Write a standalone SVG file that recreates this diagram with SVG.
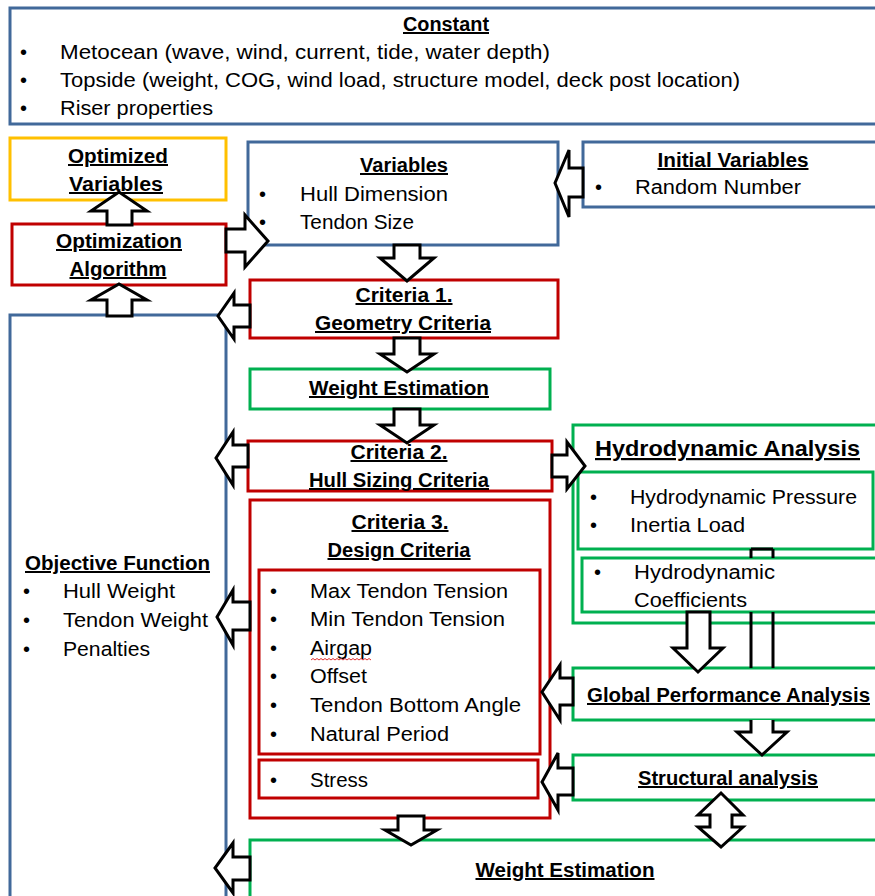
<svg xmlns="http://www.w3.org/2000/svg" width="875" height="896" viewBox="0 0 875 896">
<style>
.box{fill:none;stroke-width:3}
.blue{stroke:#41699A}
.red{stroke:#C00000}
.green{stroke:#00B050}
.yellow{stroke:#FFC000}
.wf{fill:#fff}
.arrow{fill:#fff;stroke:#000;stroke-width:3;stroke-linejoin:miter}
.t{font-family:"Liberation Sans",Arial,sans-serif;font-size:20px;fill:#000}
.bu{font-weight:bold;text-decoration:underline;font-size:20px}
.m{text-anchor:middle}
</style>
<rect width="875" height="896" fill="#fff"/>

<g id="constant">
<rect class="box blue" x="10" y="8" width="880" height="116"/>
<text class="t bu m" x="446" y="31" textLength="86" lengthAdjust="spacingAndGlyphs">Constant</text>
<text class="t" x="20" y="59">•</text>
<text class="t" x="60" y="59" textLength="490" lengthAdjust="spacingAndGlyphs">Metocean (wave, wind, current, tide, water depth)</text>
<text class="t" x="20" y="87">•</text>
<text class="t" x="60" y="87" textLength="680" lengthAdjust="spacingAndGlyphs">Topside (weight, COG, wind load, structure model, deck post location)</text>
<text class="t" x="20" y="115">•</text>
<text class="t" x="60" y="115" textLength="153" lengthAdjust="spacingAndGlyphs">Riser properties</text>
</g>

<g id="optimized-variables">
<rect class="box yellow" x="10" y="138" width="216" height="62"/>
<text class="t bu m" x="118" y="163" textLength="100" lengthAdjust="spacingAndGlyphs">Optimized</text>
<text class="t bu m" x="116" y="191" textLength="94" lengthAdjust="spacingAndGlyphs">Variables</text>
</g>

<g id="optimization-algorithm">
<rect class="box red" x="12" y="224" width="214" height="61"/>
<text class="t bu m" x="119" y="248" textLength="126" lengthAdjust="spacingAndGlyphs">Optimization</text>
<text class="t bu m" x="118" y="276" textLength="97" lengthAdjust="spacingAndGlyphs">Algorithm</text>
</g>

<g id="variables">
<rect class="box blue" x="248" y="142" width="310" height="103"/>
<text class="t bu m" x="404" y="172" textLength="88" lengthAdjust="spacingAndGlyphs">Variables</text>
<text class="t" x="259" y="201">•</text>
<text class="t" x="300" y="201" textLength="148" lengthAdjust="spacingAndGlyphs">Hull Dimension</text>
<text class="t" x="259" y="229">•</text>
<text class="t" x="300" y="229" textLength="114" lengthAdjust="spacingAndGlyphs">Tendon Size</text>
</g>

<g id="initial-variables">
<rect class="box blue" x="583" y="142" width="300" height="65"/>
<text class="t bu m" x="733" y="167" textLength="151" lengthAdjust="spacingAndGlyphs">Initial Variables</text>
<text class="t" x="595" y="194">•</text>
<text class="t" x="635" y="194" textLength="166" lengthAdjust="spacingAndGlyphs">Random Number</text>
</g>

<g id="objective-function">
<rect class="box blue" x="10" y="315" width="216" height="600"/>
<text class="t bu" x="25" y="570" textLength="185" lengthAdjust="spacingAndGlyphs">Objective Function</text>
<text class="t" x="23" y="598">•</text>
<text class="t" x="63" y="598" textLength="112" lengthAdjust="spacingAndGlyphs">Hull Weight</text>
<text class="t" x="23" y="627">•</text>
<text class="t" x="63" y="627" textLength="145" lengthAdjust="spacingAndGlyphs">Tendon Weight</text>
<text class="t" x="23" y="656">•</text>
<text class="t" x="63" y="656" textLength="87" lengthAdjust="spacingAndGlyphs">Penalties</text>
</g>

<g id="criteria-1">
<rect class="box red" x="250" y="280" width="308" height="58"/>
<text class="t bu m" x="404" y="302" textLength="97" lengthAdjust="spacingAndGlyphs">Criteria 1.</text>
<text class="t bu m" x="403" y="330" textLength="176" lengthAdjust="spacingAndGlyphs">Geometry Criteria</text>
</g>

<g id="weight-estimation-1">
<rect class="box green" x="250" y="369" width="300" height="40"/>
<text class="t bu m" x="399" y="395" textLength="180" lengthAdjust="spacingAndGlyphs">Weight Estimation</text>
</g>

<g id="criteria-2">
<rect class="box red" x="248" y="441" width="304" height="50"/>
<text class="t bu m" x="399" y="459" textLength="97" lengthAdjust="spacingAndGlyphs">Criteria 2.</text>
<text class="t bu m" x="399" y="487" textLength="180" lengthAdjust="spacingAndGlyphs">Hull Sizing Criteria</text>
</g>

<g id="criteria-3">
<rect class="box red" x="250" y="500" width="300" height="318"/>
<text class="t bu m" x="400" y="529" textLength="97" lengthAdjust="spacingAndGlyphs">Criteria 3.</text>
<text class="t bu m" x="399" y="557" textLength="143" lengthAdjust="spacingAndGlyphs">Design Criteria</text>
<rect class="box red" x="259" y="570" width="281" height="184"/>
<text class="t" x="270" y="598">•</text>
<text class="t" x="310" y="598" textLength="198" lengthAdjust="spacingAndGlyphs">Max Tendon Tension</text>
<text class="t" x="270" y="626">•</text>
<text class="t" x="310" y="626" textLength="195" lengthAdjust="spacingAndGlyphs">Min Tendon Tension</text>
<text class="t" x="270" y="655">•</text>
<text class="t" x="310" y="655" textLength="62" lengthAdjust="spacingAndGlyphs">Airgap</text>
<path d="M311,660 l2,-1.5 l2,1.5 l2,-1.5 l2,1.5 l2,-1.5 l2,1.5 l2,-1.5 l2,1.5 l2,-1.5 l2,1.5 l2,-1.5 l2,1.5 l2,-1.5 l2,1.5 l2,-1.5 l2,1.5 l2,-1.5 l2,1.5 l2,-1.5 l2,1.5 l2,-1.5 l2,1.5 l2,-1.5 l2,1.5 l2,-1.5 l2,1.5 l2,-1.5 l2,1.5 l2,-1.5 l2,1.5" fill="none" stroke="#E03030" stroke-width="1"/>
<text class="t" x="270" y="683">•</text>
<text class="t" x="310" y="683" textLength="57" lengthAdjust="spacingAndGlyphs">Offset</text>
<text class="t" x="270" y="712">•</text>
<text class="t" x="310" y="712" textLength="211" lengthAdjust="spacingAndGlyphs">Tendon Bottom Angle</text>
<text class="t" x="270" y="741">•</text>
<text class="t" x="310" y="741" textLength="139" lengthAdjust="spacingAndGlyphs">Natural Period</text>
<rect class="box red" x="259" y="760" width="279" height="38"/>
<text class="t" x="270" y="787">•</text>
<text class="t" x="310" y="787" textLength="58" lengthAdjust="spacingAndGlyphs">Stress</text>
</g>

<g id="hydrodynamic-analysis">
<rect class="box green" x="573" y="425" width="310" height="198"/>
<text class="t" x="595" y="456" style="font-weight:bold;text-decoration:underline;font-size:22px" textLength="265" lengthAdjust="spacingAndGlyphs">Hydrodynamic Analysis</text>
<rect class="box green" x="578" y="472" width="295" height="77"/>
<text class="t" x="590" y="504">•</text>
<text class="t" x="630" y="504" textLength="227" lengthAdjust="spacingAndGlyphs">Hydrodynamic Pressure</text>
<text class="t" x="590" y="532">•</text>
<text class="t" x="630" y="532" textLength="115" lengthAdjust="spacingAndGlyphs">Inertia Load</text>
<rect class="box green wf" x="582" y="558" width="300" height="54"/>
<text class="t" x="594" y="579">•</text>
<text class="t" x="634" y="579" textLength="141" lengthAdjust="spacingAndGlyphs">Hydrodynamic</text>
<text class="t" x="634" y="607" textLength="113" lengthAdjust="spacingAndGlyphs">Coefficients</text>
</g>

<g id="global-performance-analysis">
<rect class="box green" x="573" y="668" width="310" height="52"/>
<text class="t bu" x="587" y="702" textLength="283" lengthAdjust="spacingAndGlyphs">Global Performance Analysis</text>
</g>

<g id="structural-analysis">
<rect class="box green" x="573" y="755" width="310" height="45"/>
<text class="t bu m" x="728" y="785" textLength="180" lengthAdjust="spacingAndGlyphs">Structural analysis</text>
</g>

<g id="weight-estimation-2">
<rect class="box green" x="250" y="840" width="640" height="100"/>
<text class="t bu m" x="565" y="877" textLength="179" lengthAdjust="spacingAndGlyphs">Weight Estimation</text>
</g>

<g id="connectors">
<polygon class="arrow" points="107,225 107,211 91,211 119,192 147,211 132,211 132,225"/>
<polygon class="arrow" points="107,316 107,300 91,300 119,284 147,300 132,300 132,316"/>
<polygon class="arrow" points="226,229 245,229 245,215 268,241 245,267 245,252 226,252"/>
<polygon class="arrow" points="583,168 569,168 569,150 555,183 569,217 569,197 583,197"/>
<polygon class="arrow" points="394,245 394,258 380,258 407,281 434,258 420,258 420,245"/>
<polygon class="arrow" points="394,338 394,354 380,354 407,372 434,354 420,354 420,338"/>
<polygon class="arrow" points="394,409 394,425 380,425 407,443 434,425 420,425 420,409"/>
<polygon class="arrow" points="250,305 234,305 234,293 218,316 234,339 234,327 250,327"/>
<polygon class="arrow" points="248,445 233,445 233,432 216,458 233,485 233,467 248,467"/>
<polygon class="arrow" points="552,455 567,455 567,442 585,466 567,489 567,477 552,477"/>
<polygon class="arrow" points="250,602 233,602 233,590 217,617 233,645 233,630 250,630"/>
<polygon class="arrow" points="398,816 398,830 385,830 411,845 437,830 424,830 424,816"/>
<polygon class="arrow" points="710,827 710,815 698,815 721,793 743,815 732,815 732,827 743,827 721,847 698,827"/>
<polygon class="arrow" points="573,678 560,678 560,665 542,692 560,720 560,705 573,705"/>
<polygon class="arrow" points="573,768 558,768 558,753 542,782 558,810 558,795 573,795"/>
<polygon class="arrow" points="687,612 687,648 673,648 698,672 723,648 710,648 710,612"/>
<path class="arrow" d="M751,549 H773 M751,549 V558 M773,549 V558 M751,612 V668 M773,612 V668 M751,720 V732 H737 L762,755 L787,732 H773 V720"/>
<polygon class="arrow" points="250,857 233,857 233,843 215,868 233,893 233,880 250,880"/>
</g>
</svg>
